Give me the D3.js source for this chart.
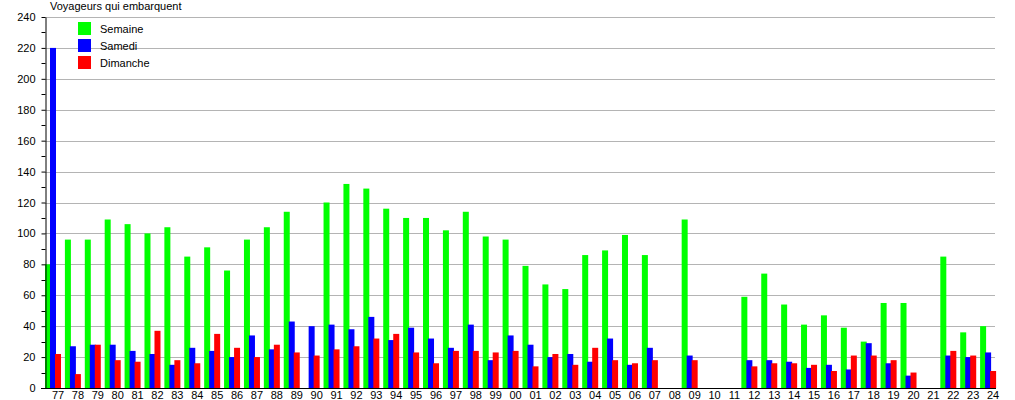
<!DOCTYPE html>
<html>
<head>
<meta charset="utf-8">
<script src="https://cdn.jsdelivr.net/npm/d3@7"></script>
<style>
  html, body { margin: 0; padding: 0; background: #fff; }
  svg { display: block; font-family: "Liberation Sans", Arial, sans-serif; }
</style>
</head>
<body>
<svg id="chart" width="1015" height="400"></svg>
<script>
const categories = ["77","78","79","80","81","82","83","84","85","86","87","88","89","90","91","92","93","94","95","96","97","98","99","00","01","02","03","04","05","06","07","08","09","10","11","12","13","14","15","16","17","18","19","20","21","22","23","24"];
const semaine  = [80,96,96,109,106,100,104,85,91,76,96,104,114,0,120,132,129,116,110,110,102,114,98,96,79,67,64,86,89,99,86,0,109,0,0,59,74,54,41,47,39,30,55,55,0,85,36,40];
const samedi   = [220,27,28,28,24,22,15,26,24,20,34,25,43,40,41,38,46,31,39,32,26,41,18,34,28,20,22,17,32,15,26,0,21,0,0,18,18,17,13,15,12,29,16,8,0,21,20,23];
const dimanche = [22,9,28,18,17,37,18,16,35,26,20,28,23,21,25,27,32,35,23,16,24,24,23,24,14,22,15,26,18,16,18,0,18,0,0,14,16,16,15,11,21,21,18,10,0,24,21,11];
const seriesNames = ["Semaine","Samedi","Dimanche"];
const seriesColors = ["#00ff00","#0000ff","#ff0000"];
const yTicks = [0,20,40,60,80,100,120,140,160,180,200,220,240];
const yMinorTicks = [10,30,50,70,90,110,130,150,170,190,210,230];
const yTitle = "Voyageurs qui embarquent";

const series = [semaine, samedi, dimanche];
const svg = d3.select("#chart");

const plotLeft = 45, plotRight = 995, plotTop = 17, plotBottom = 388;

const y = d3.scaleLinear().domain([0, 240]).range([plotBottom, plotTop]);
const x = d3.scaleBand().domain(categories).range([plotLeft, 1000]).padding(0);
const step = x.step();
const xLabel = d3.scalePoint().domain(categories).range([plotLeft + 12.5, plotLeft + 12.5 + step * (categories.length - 1)]);

// gridlines
svg.append("g")
  .selectAll("line")
  .data(yTicks.filter(d => d > 0))
  .join("line")
  .attr("x1", plotLeft).attr("x2", plotRight)
  .attr("y1", d => Math.round(y(d)) + 0.5).attr("y2", d => Math.round(y(d)) + 0.5)
  .attr("stroke", "#b4b4b4").attr("stroke-width", 1);

// bars
const barW = 6;
series.forEach((vals, si) => {
  svg.append("g")
    .selectAll("rect")
    .data(categories.map((c, i) => ({ c, v: vals[i] })).filter(d => d.v > 0))
    .join("rect")
    .attr("x", d => x(d.c) + si * 5)
    .attr("width", barW)
    .attr("y", d => y(d.v))
    .attr("height", d => plotBottom - y(d.v))
    .attr("fill", seriesColors[si]);
});

// y axis
const yAxis = svg.append("g")
  .attr("transform", `translate(${plotLeft + 0.5},0)`)
  .call(d3.axisLeft(y).tickValues(yTicks).tickSize(4).tickPadding(6).tickSizeOuter(0));
yAxis.select(".domain").attr("stroke", "#000");
yAxis.selectAll("text").attr("font-size", 11).attr("fill", "#000")
  .attr("font-family", "'Liberation Sans', Arial, sans-serif");
svg.append("g")
  .selectAll("line")
  .data(yMinorTicks)
  .join("line")
  .attr("x1", plotLeft - 4 + 0.5).attr("x2", plotLeft + 0.5)
  .attr("y1", d => Math.round(y(d)) + 0.5).attr("y2", d => Math.round(y(d)) + 0.5)
  .attr("stroke", "#000");

// x axis
svg.append("line")
  .attr("x1", plotLeft - 4).attr("x2", 996)
  .attr("y1", plotBottom + 0.5).attr("y2", plotBottom + 0.5)
  .attr("stroke", "#000");
const xAxis = svg.append("g")
  .attr("transform", `translate(0,${plotBottom})`)
  .call(d3.axisBottom(xLabel).tickSize(0).tickPadding(3));
xAxis.select(".domain").remove();
xAxis.selectAll("text").attr("font-size", 11).attr("fill", "#000")
  .attr("font-family", "'Liberation Sans', Arial, sans-serif");

// title
svg.append("text")
  .attr("x", 50).attr("y", 10)
  .attr("font-size", 11).attr("fill", "#000")
  .text(yTitle);

// legend
const leg = svg.append("g");
seriesNames.forEach((n, i) => {
  leg.append("rect").attr("x", 78).attr("y", 22 + i * 17).attr("width", 13).attr("height", 13)
    .attr("fill", seriesColors[i]);
  leg.append("text").attr("x", 100).attr("y", 22 + i * 17 + 10.5)
    .attr("font-size", 11).attr("fill", "#000").text(n);
});
</script>
</body>
</html>
